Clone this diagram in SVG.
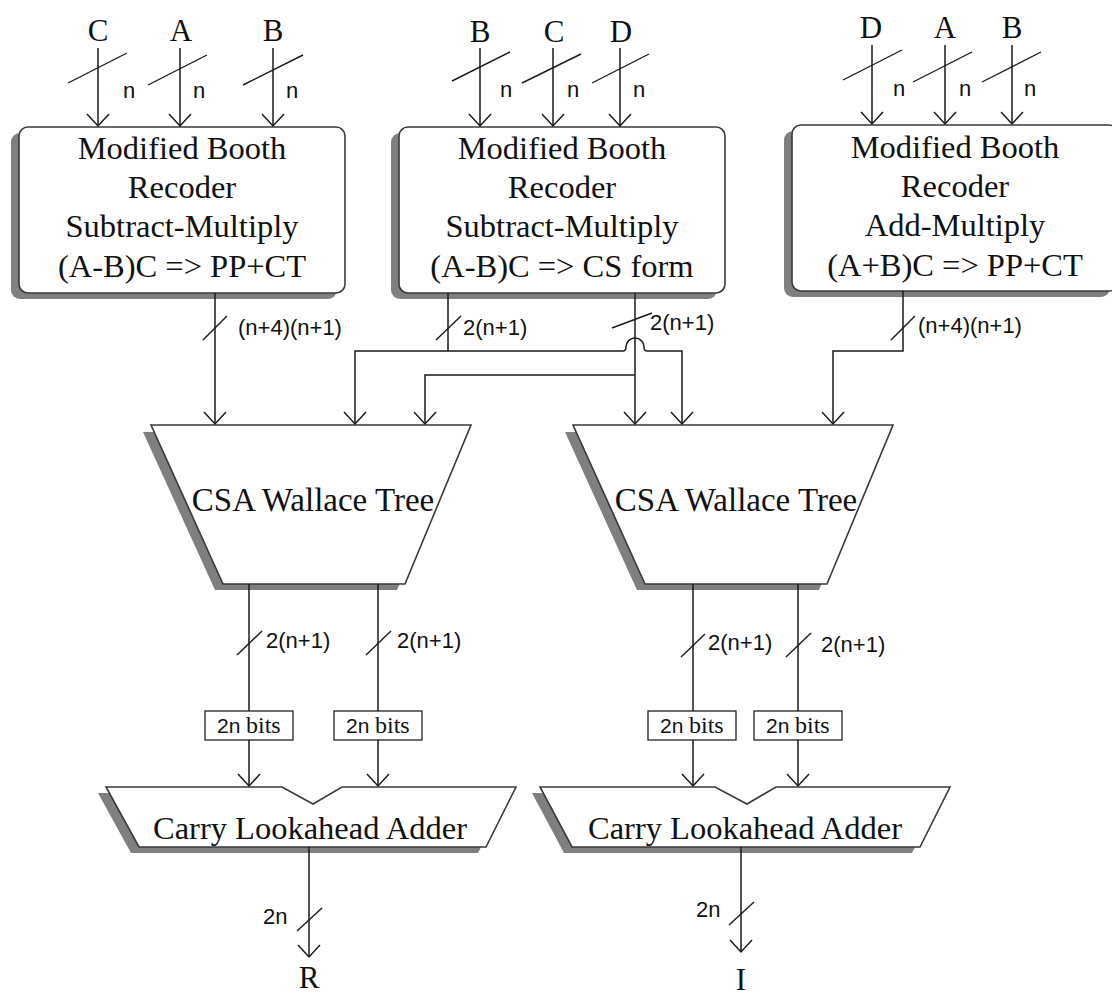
<svg xmlns="http://www.w3.org/2000/svg" width="1112" height="995" viewBox="0 0 1112 995">
  <style>
    .bg { fill: #ffffff; }
    .shadow { fill: #7f7f7f; stroke: none; }
    .body { fill: #ffffff; stroke: #3a3a3a; stroke-width: 1.6; }
    .wire { fill: none; stroke: #1a1a1a; stroke-width: 1.5; }
    .tick { fill: none; stroke: #1a1a1a; stroke-width: 1.4; }
    .serif { font-family: "Liberation Serif", "Times New Roman", serif; fill: #111; }
    .block { font-size: 32.5px; text-anchor: middle; }
    .pin { font-size: 31px; text-anchor: middle; }
    .width { font-family: "Liberation Sans", Arial, sans-serif; font-size: 22px; fill: #111; }
    .bitsn { font-family: "Liberation Sans", Arial, sans-serif; font-size: 21px; fill: #111; }
    .bitsw { font-family: "Liberation Serif", "Times New Roman", serif; font-size: 24px; fill: #111; }
    .bits { fill: #ffffff; stroke: #222; stroke-width: 1.3; }
  </style>
  <defs>
    <marker id="arrow" viewBox="-14 -13 16 26" markerWidth="16" markerHeight="26" refX="0" refY="0" orient="auto" markerUnits="userSpaceOnUse">
      <path d="M -12 -11 L 0 0 L -12 11" fill="none" stroke="#1a1a1a" stroke-width="1.5"/>
    </marker>
  </defs>

  <rect class="bg" x="0" y="0" width="1112" height="995"/>

  <!-- Booth recoder blocks -->
  <g id="booth-sub-pp">
    <rect class="shadow" x="11" y="133" width="326" height="166" rx="9"/>
    <rect class="body" x="19" y="127" width="326" height="166" rx="9"/>
    <text class="serif block" x="182" y="159">Modified Booth</text>
    <text class="serif block" x="182" y="198">Recoder</text>
    <text class="serif block" x="182" y="237">Subtract-Multiply</text>
    <text class="serif block" x="182" y="277">(A-B)C =&gt; PP+CT</text>
  </g>
  <g id="booth-sub-cs">
    <rect class="shadow" x="391" y="133" width="326" height="166" rx="9"/>
    <rect class="body" x="399" y="127" width="326" height="166" rx="9"/>
    <text class="serif block" x="562" y="159">Modified Booth</text>
    <text class="serif block" x="562" y="198">Recoder</text>
    <text class="serif block" x="562" y="237">Subtract-Multiply</text>
    <text class="serif block" x="562" y="277">(A-B)C =&gt; CS form</text>
  </g>
  <g id="booth-add-pp">
    <rect class="shadow" x="784" y="131" width="326" height="166" rx="9"/>
    <rect class="body" x="792" y="125" width="326" height="166" rx="9"/>
    <text class="serif block" x="955" y="158">Modified Booth</text>
    <text class="serif block" x="955" y="197">Recoder</text>
    <text class="serif block" x="955" y="236">Add-Multiply</text>
    <text class="serif block" x="955" y="276">(A+B)C =&gt; PP+CT</text>
  </g>

  <!-- Wallace trees -->
  <g id="csa-left">
    <polygon class="shadow" points="143,432 463,432 397,590 215,590"/>
    <polygon class="body" points="151,425 471,425 405,584 223,584"/>
    <text class="serif" x="313" y="511" font-size="33" text-anchor="middle">CSA Wallace Tree</text>
  </g>
  <g id="csa-right">
    <polygon class="shadow" points="565,432 885,432 819,590 637,590"/>
    <polygon class="body" points="573,425 893,425 827,584 645,584"/>
    <text class="serif" x="736" y="511" font-size="33" text-anchor="middle">CSA Wallace Tree</text>
  </g>

  <!-- 2n-bit trimming boxes -->
  <g id="trim-r1">
    <rect class="bits" x="205" y="711" width="88" height="29"/>
    <text class="bitsn" x="217" y="733">2n</text>
    <text class="bitsw" x="246" y="733">bits</text>
  </g>
  <g id="trim-r2">
    <rect class="bits" x="334" y="711" width="88" height="29"/>
    <text class="bitsn" x="346" y="733">2n</text>
    <text class="bitsw" x="375" y="733">bits</text>
  </g>
  <g id="trim-i1">
    <rect class="bits" x="648" y="711" width="88" height="29"/>
    <text class="bitsn" x="660" y="733">2n</text>
    <text class="bitsw" x="689" y="733">bits</text>
  </g>
  <g id="trim-i2">
    <rect class="bits" x="754" y="711" width="88" height="29"/>
    <text class="bitsn" x="766" y="733">2n</text>
    <text class="bitsw" x="795" y="733">bits</text>
  </g>

  <!-- Carry lookahead adders -->
  <g id="cla-left">
    <polygon class="shadow" points="98,793 274,793 305,810 334,793 508,793 478,853 131,853"/>
    <polygon class="body" points="106,787 282,787 313,804 342,787 516,787 486,847 139,847"/>
    <text class="serif block" x="310" y="839">Carry Lookahead Adder</text>
  </g>
  <g id="cla-right">
    <polygon class="shadow" points="532,793 707,793 739,810 768,793 942,793 912,853 564,853"/>
    <polygon class="body" points="540,787 715,787 747,804 776,787 950,787 920,847 572,847"/>
    <text class="serif block" x="745" y="839">Carry Lookahead Adder</text>
  </g>

  <!-- Inputs and outputs -->
  <g id="ports">
    <text class="serif pin" x="98" y="41">C</text>
    <text class="serif pin" x="181" y="41">A</text>
    <text class="serif pin" x="273" y="41">B</text>
    <text class="serif pin" x="480" y="42">B</text>
    <text class="serif pin" x="554" y="42">C</text>
    <text class="serif pin" x="621" y="42">D</text>
    <text class="serif pin" x="871" y="38">D</text>
    <text class="serif pin" x="945" y="38">A</text>
    <text class="serif pin" x="1012" y="38">B</text>
    <text class="serif pin" x="309" y="988">R</text>
    <text class="serif pin" x="741" y="990">I</text>
  </g>

  <!-- Connectors with bus-width ticks -->
  <g id="connectors">
    <!-- operand inputs -->
    <line class="wire" x1="98" y1="48" x2="98" y2="126" marker-end="url(#arrow)"/>
    <line class="wire" x1="180" y1="48" x2="180" y2="126" marker-end="url(#arrow)"/>
    <line class="wire" x1="273" y1="48" x2="273" y2="126" marker-end="url(#arrow)"/>
    <line class="wire" x1="480" y1="48" x2="480" y2="126" marker-end="url(#arrow)"/>
    <line class="wire" x1="553" y1="48" x2="553" y2="126" marker-end="url(#arrow)"/>
    <line class="wire" x1="620" y1="48" x2="620" y2="126" marker-end="url(#arrow)"/>
    <line class="wire" x1="872" y1="45" x2="872" y2="124" marker-end="url(#arrow)"/>
    <line class="wire" x1="945" y1="45" x2="945" y2="124" marker-end="url(#arrow)"/>
    <line class="wire" x1="1012" y1="45" x2="1012" y2="124" marker-end="url(#arrow)"/>

    <line class="tick" x1="68" y1="83" x2="127" y2="53"/>
    <line class="tick" x1="148" y1="85" x2="207" y2="55"/>
    <line class="tick" x1="243" y1="85" x2="303" y2="55"/>
    <line class="tick" x1="452" y1="81" x2="510" y2="52"/>
    <line class="tick" x1="522" y1="83" x2="581" y2="54"/>
    <line class="tick" x1="592" y1="83" x2="649" y2="54"/>
    <line class="tick" x1="843" y1="80" x2="902" y2="50"/>
    <line class="tick" x1="913" y1="82" x2="972" y2="52"/>
    <line class="tick" x1="982" y1="82" x2="1041" y2="52"/>

    <text class="width" x="123" y="98">n</text>
    <text class="width" x="193" y="98">n</text>
    <text class="width" x="286" y="98">n</text>
    <text class="width" x="500" y="97">n</text>
    <text class="width" x="567" y="97">n</text>
    <text class="width" x="633" y="97">n</text>
    <text class="width" x="893" y="96">n</text>
    <text class="width" x="959" y="96">n</text>
    <text class="width" x="1024" y="96">n</text>

    <!-- recoder outputs into the trees -->
    <line class="wire" x1="215" y1="293" x2="215" y2="424" marker-end="url(#arrow)"/>
    <line class="tick" x1="203" y1="340" x2="227" y2="316"/>
    <text class="width" x="238" y="335">(n+4)(n+1)</text>

    <line class="wire" x1="448" y1="293" x2="448" y2="351"/>
    <line class="tick" x1="436" y1="340" x2="461" y2="316"/>
    <text class="width" x="463" y="335">2(n+1)</text>
    <path class="wire" d="M 448 351 H 355 V 424" marker-end="url(#arrow)"/>
    <path class="wire" d="M 448 351 H 623 Q 626 351 626 347 A 9 9 0 0 1 644 347 Q 644 351 647 351 H 682 V 424" marker-end="url(#arrow)"/>

    <line class="wire" x1="635" y1="293" x2="635" y2="424" marker-end="url(#arrow)"/>
    <line class="tick" x1="612" y1="328" x2="652" y2="313"/>
    <text class="width" x="650" y="330">2(n+1)</text>
    <path class="wire" d="M 635 375 H 425 V 424" marker-end="url(#arrow)"/>

    <path class="wire" d="M 903 291 V 351 H 833 V 424" marker-end="url(#arrow)"/>
    <line class="tick" x1="891" y1="340" x2="915" y2="316"/>
    <text class="width" x="918" y="333">(n+4)(n+1)</text>

    <!-- tree outputs into the adders -->
    <line class="wire" x1="249" y1="584" x2="249" y2="711"/>
    <line class="wire" x1="249" y1="740" x2="249" y2="786" marker-end="url(#arrow)"/>
    <line class="tick" x1="237" y1="655" x2="262" y2="631"/>
    <text class="width" x="266" y="648">2(n+1)</text>

    <line class="wire" x1="378" y1="584" x2="378" y2="711"/>
    <line class="wire" x1="378" y1="740" x2="378" y2="786" marker-end="url(#arrow)"/>
    <line class="tick" x1="366" y1="655" x2="391" y2="631"/>
    <text class="width" x="397" y="648">2(n+1)</text>

    <line class="wire" x1="693" y1="584" x2="693" y2="711"/>
    <line class="wire" x1="693" y1="740" x2="693" y2="786" marker-end="url(#arrow)"/>
    <line class="tick" x1="681" y1="657" x2="705" y2="634"/>
    <text class="width" x="708" y="650">2(n+1)</text>

    <line class="wire" x1="798" y1="584" x2="798" y2="711"/>
    <line class="wire" x1="798" y1="740" x2="798" y2="786" marker-end="url(#arrow)"/>
    <line class="tick" x1="786" y1="657" x2="811" y2="633"/>
    <text class="width" x="821" y="652">2(n+1)</text>

    <!-- adder results -->
    <line class="wire" x1="309" y1="847" x2="309" y2="957" marker-end="url(#arrow)"/>
    <line class="tick" x1="297" y1="931" x2="322" y2="908"/>
    <text class="width" x="263" y="924">2n</text>

    <line class="wire" x1="741" y1="847" x2="741" y2="952" marker-end="url(#arrow)"/>
    <line class="tick" x1="729" y1="925" x2="754" y2="902"/>
    <text class="width" x="696" y="917">2n</text>
  </g>
</svg>
